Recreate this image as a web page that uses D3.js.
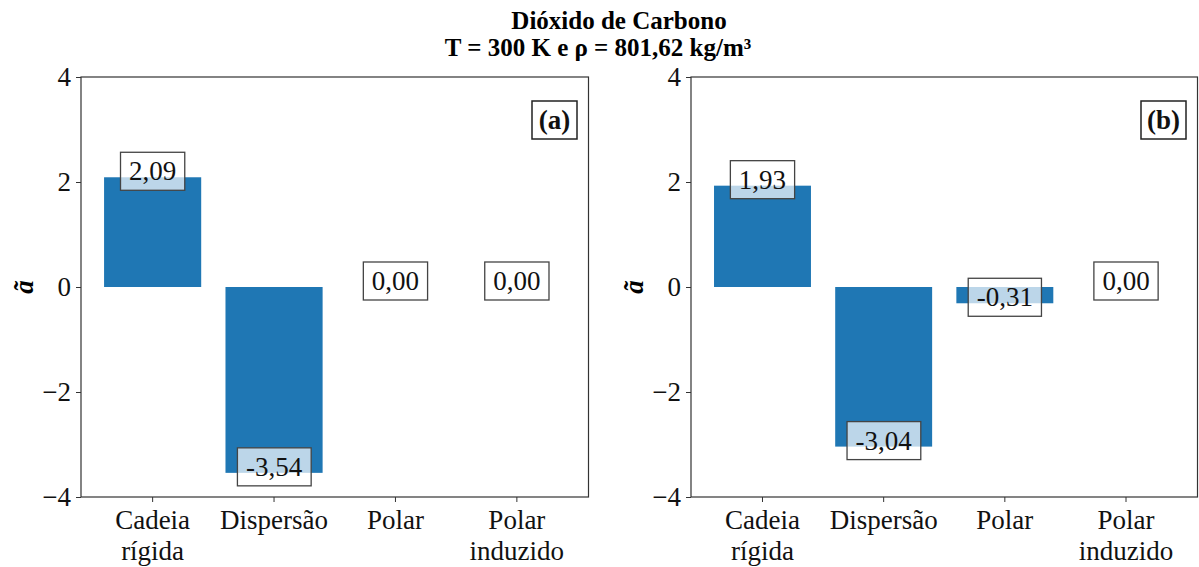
<!DOCTYPE html>
<html>
<head>
<meta charset="utf-8">
<script src="https://cdn.jsdelivr.net/npm/d3@7"></script>
<style>
  html, body { margin: 0; padding: 0; background: #fff; }
  svg { display: block; }
  text { font-family: "Liberation Serif", "Times New Roman", serif; }
</style>
</head>
<body>
<svg id="chart" width="1199" height="567"></svg>
<script>
// ---- data ----
const categories = ["Cadeia rígida", "Dispersão", "Polar", "Polar induzido"];
const categoryLines = [["Cadeia", "rígida"], ["Dispersão"], ["Polar"], ["Polar", "induzido"]];
const valuesA = [2.09, -3.54, 0.00, 0.00];
const valuesB = [1.93, -3.04, -0.31, 0.00];
const labelsA = ["2,09", "-3,54", "0,00", "0,00"];
const labelsB = ["1,93", "-3,04", "-0,31", "0,00"];
const yTicks = [-4, -2, 0, 2, 4];
const yTickLabels = ["\u22124", "\u22122", "0", "2", "4"];
const panelTags = ["(a)", "(b)"];
const titleLines = ["Dióxido de Carbono", "T = 300 K e ρ = 801,62 kg/m³"];
const yLabel = "ã";

const svg = d3.select("#chart");
const barColor = "#1f77b4";
const fontSize = 27;

// title
svg.append("text").attr("x", 619).attr("y", 29).attr("text-anchor", "middle")
  .attr("font-weight", "bold").attr("font-size", 25).text(titleLines[0]);
svg.append("text").attr("x", 598).attr("y", 56).attr("text-anchor", "middle")
  .attr("font-weight", "bold").attr("font-size", 25).text(titleLines[1]);

const panels = [
  { x0: 81, x1: 588.5, values: valuesA, labels: labelsA, tag: panelTags[0] },
  { x0: 691, x1: 1197.5, values: valuesB, labels: labelsB, tag: panelTags[1] }
];
const yTop = 77, yBot = 497;

panels.forEach(p => {
  const g = svg.append("g");
  const x = d3.scaleBand().domain(categories).range([p.x0, p.x1])
    .paddingInner(0.2).paddingOuter(0.19);
  const y = d3.scaleLinear().domain([-4, 4]).range([yBot, yTop]);

  // bars
  g.selectAll("rect.bar").data(p.values).join("rect")
    .attr("class", "bar")
    .attr("x", (d, i) => x(categories[i]))
    .attr("width", x.bandwidth())
    .attr("y", d => Math.min(y(d), y(0)))
    .attr("height", d => Math.abs(y(d) - y(0)))
    .attr("fill", barColor);

  // spines
  g.append("rect").attr("x", p.x0).attr("y", yTop)
    .attr("width", p.x1 - p.x0).attr("height", yBot - yTop)
    .attr("fill", "none").attr("stroke", "#333").attr("stroke-width", 1.2);

  // y axis
  const yAxis = d3.axisLeft(y).tickValues(yTicks)
    .tickFormat((d, i) => yTickLabels[i]).tickSize(5).tickPadding(5);
  const ya = g.append("g").attr("transform", `translate(${p.x0},0)`).call(yAxis);
  ya.select(".domain").remove();
  ya.selectAll("line").attr("stroke", "#333").attr("stroke-width", 1);
  ya.selectAll("text").attr("font-size", fontSize).attr("fill", "#111")
    .attr("font-family", "Liberation Serif");

  // x axis
  const xAxis = d3.axisBottom(x).tickSize(5).tickPadding(5).tickFormat("");
  const xa = g.append("g").attr("transform", `translate(0,${yBot})`).call(xAxis);
  xa.select(".domain").remove();
  xa.selectAll("line").attr("stroke", "#333").attr("stroke-width", 1);
  categories.forEach((c, i) => {
    const t = g.append("text").attr("x", x(c) + x.bandwidth() / 2)
      .attr("text-anchor", "middle").attr("font-size", fontSize).attr("fill", "#111");
    categoryLines[i].forEach((ln, j) => {
      t.append("tspan").attr("x", x(c) + x.bandwidth() / 2)
        .attr("y", 529 + j * 31).text(ln);
    });
  });

  // y label
  g.append("text")
    .attr("transform", `translate(${p.x0 - 57},${y(0)}) rotate(-90)`)
    .attr("text-anchor", "middle").attr("dominant-baseline", "central")
    .attr("font-weight", "bold").attr("font-style", "italic")
    .attr("font-size", fontSize).text(yLabel);

  // value labels with boxes
  p.values.forEach((v, i) => {
    const cx = x(categories[i]) + x.bandwidth() / 2;
    const cy = y(v) - 6;
    const lg = g.append("g");
    const box = lg.append("rect");
    const t = lg.append("text").attr("x", cx).attr("y", cy)
      .attr("text-anchor", "middle").attr("dominant-baseline", "central")
      .attr("font-size", fontSize).attr("fill", "#111").text(p.labels[i]);
    const bb = t.node().getBBox();
    const padX = 8.5, h = 38;
    box.attr("x", bb.x - padX).attr("y", cy - h / 2)
      .attr("width", bb.width + 2 * padX).attr("height", h)
      .attr("fill", "#fff").attr("fill-opacity", 0.7)
      .attr("stroke", "#444").attr("stroke-width", 1.3);
  });

  // panel tag
  const tg = g.append("g");
  const tbox = tg.append("rect");
  const tcx = p.x1 - 11.5 - 22.5, tcy = yTop + 24 + 19;
  const tt = tg.append("text").attr("x", tcx).attr("y", tcy)
    .attr("text-anchor", "middle").attr("dominant-baseline", "central")
    .attr("font-weight", "bold").attr("font-size", fontSize).attr("fill", "#111").text(p.tag);
  tbox.attr("x", tcx - 22.5).attr("y", tcy - 19).attr("width", 45).attr("height", 38)
    .attr("fill", "#fff").attr("stroke", "#222").attr("stroke-width", 1.5);
});
</script>
</body>
</html>
